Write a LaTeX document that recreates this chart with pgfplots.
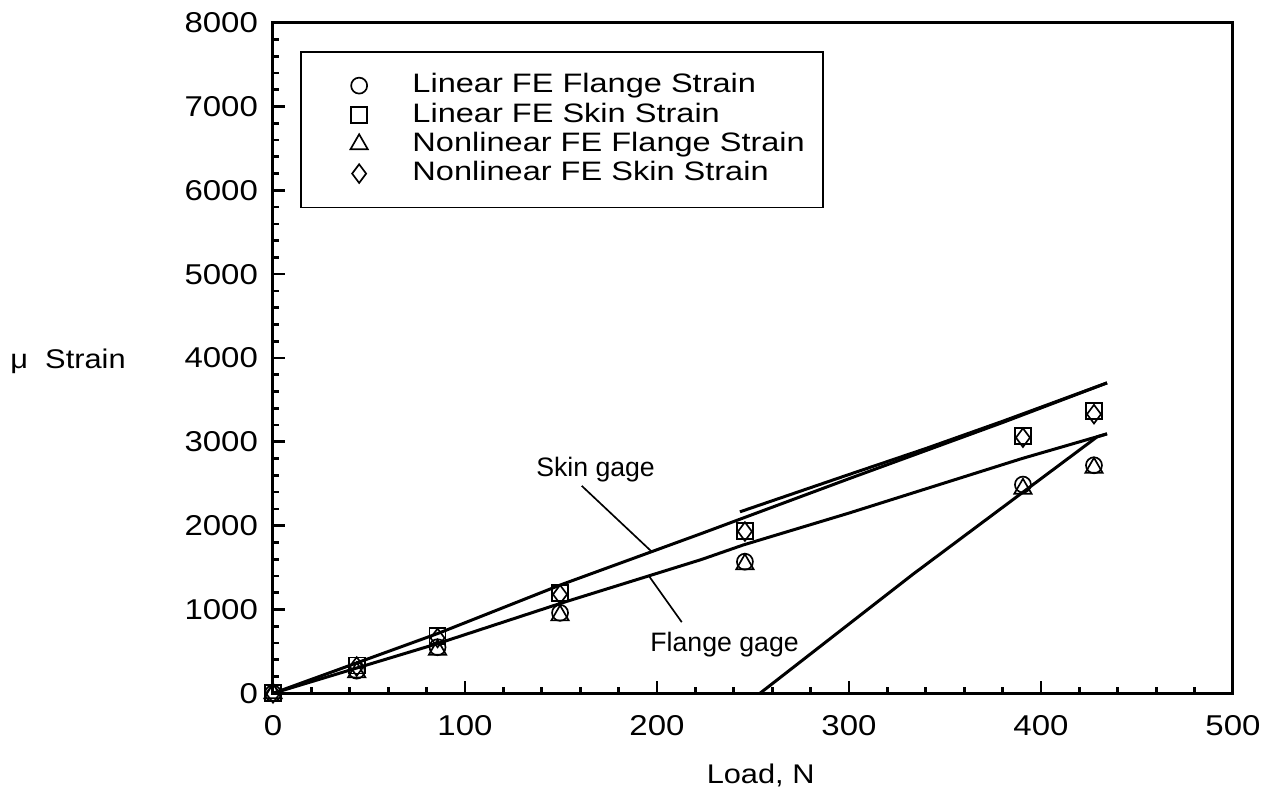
\documentclass[border=0pt]{standalone}
\usepackage{pgfplots}
\pgfplotsset{compat=1.18}
\usepackage{fontspec}
\setmainfont{Liberation Sans}
\newfontfamily\tickfont[FakeStretch=1.15]{Liberation Sans}
\newfontfamily\labfont[FakeStretch=1.14]{Liberation Sans}
\newfontfamily\legfont[FakeStretch=1.22]{Liberation Sans}

\begin{document}
\begin{tikzpicture}
	\useasboundingbox (-81.9pt,-29.25pt) rectangle (300.6pt,208pt);
	\begin{axis}
	[
		scale only axis,
		width=288pt,
		height=201.2pt,
		xmin=0, xmax=500,
		ymin=0, ymax=8000,
		xtick={0,100,...,500},
		ytick={0,1000,...,8000},
		minor x tick num=4,
		minor y tick num=4,
		tick align=inside,
		xtick pos=bottom,
		ytick pos=left,
		major tick length=3.6pt,
		minor tick length=1.9pt,
		every tick/.style={black, line width=0.8pt},
		axis line style={line width=0.9pt},
		/pgf/number format/assume math mode=true,
		/pgf/number format/set thousands separator={},
		tick label style={font=\tickfont\fontsize{8.6}{10}\selectfont},
		xticklabel style={yshift=-3.1pt},
		yticklabel style={xshift=-1pt},
		xlabel={Load, N},
		ylabel={μ\ \ Strain},
		label style={font=\labfont\fontsize{8.1}{10}\selectfont},
		xlabel style={at={(axis description cs:0.508,-0.1339)}, anchor=base},
		ylabel style={rotate=-90, at={(axis description cs:-0.2135,0.485)}, anchor=base},
		legend style={
			at={(axis description cs:0.0281,0.9578)}, anchor=north west,
			draw=black, line width=0.5pt,
			font=\legfont\fontsize{8}{9}\selectfont,
			inner xsep=3.5pt, inner ysep=4.5pt,
			row sep=-2.5pt,
		},
		legend image code/.code={
			\path[draw=none, fill=none] (0pt,-2pt) rectangle (28pt,2pt);
			\draw[mark repeat=2, mark phase=2] plot coordinates {(0pt,0pt) (14pt,0pt) (28pt,0pt)};
		},
		legend cell align=left,
		mark options={solid, line width=0.5pt, fill=none},
	]
		% FE results
		\addplot[only marks, mark=o, mark size=2.4pt] coordinates
		{(0,0) (43.6,270) (85.7,550) (149.5,960) (245.8,1570) (390.6,2490) (427.6,2720)};
		\addlegendentry{Linear FE Flange Strain}
		\addplot[only marks, mark=square, mark size=2.4pt] coordinates
		{(0,0) (43.6,330) (85.7,680) (149.5,1200) (245.8,1940) (390.6,3070) (427.6,3370)};
		\addlegendentry{Linear FE Skin Strain}
		\addplot[only marks, mark=triangle, mark size=3pt] coordinates
		{(0,0) (43.6,250) (85.7,520) (149.5,930) (245.8,1540) (390.6,2440) (427.6,2690)};
		\addlegendentry{Nonlinear FE Flange Strain}
		\addplot[only marks, mark=diamond, mark size=2.8pt] coordinates
		{(0,0) (43.6,320) (85.7,660) (149.5,1180) (245.8,1930) (390.6,3050) (427.6,3330)};
		\addlegendentry{Nonlinear FE Skin Strain}

		% test gages
		\addplot[black, line width=0.9pt, forget plot] coordinates
		{(0,0) (86,715) (150,1295) (223,1905) (300,2560) (380,3230) (434.4,3703)};
		\addplot[black, line width=0.9pt, forget plot] coordinates
		{(243.2,2165) (300,2610) (340,2920) (380,3245) (434.4,3703)};
		\addplot[black, line width=0.9pt, forget plot] coordinates
		{(0,0) (86,595) (150,1075) (223,1595) (245,1770) (300,2150) (390,2800) (434.4,3095)};
		\addplot[black, line width=0.9pt, forget plot] coordinates
		{(253.6,0) (333.3,1420) (429.2,3059) (434.4,3095)};

		% labels
		\draw[black, line width=0.5pt] (axis cs:160.8,2475) -- (axis cs:197.2,1691);
		\draw[black, line width=0.5pt] (axis cs:196.0,1393) -- (axis cs:212.9,849);
		\node[anchor=base, font=\fontsize{8}{10}\selectfont] at (axis cs:168.0,2586) {Skin gage};
		\node[anchor=base, font=\fontsize{8}{10}\selectfont] at (axis cs:235.2,498.5) {Flange gage};
	\end{axis}
\end{tikzpicture}
\end{document}
